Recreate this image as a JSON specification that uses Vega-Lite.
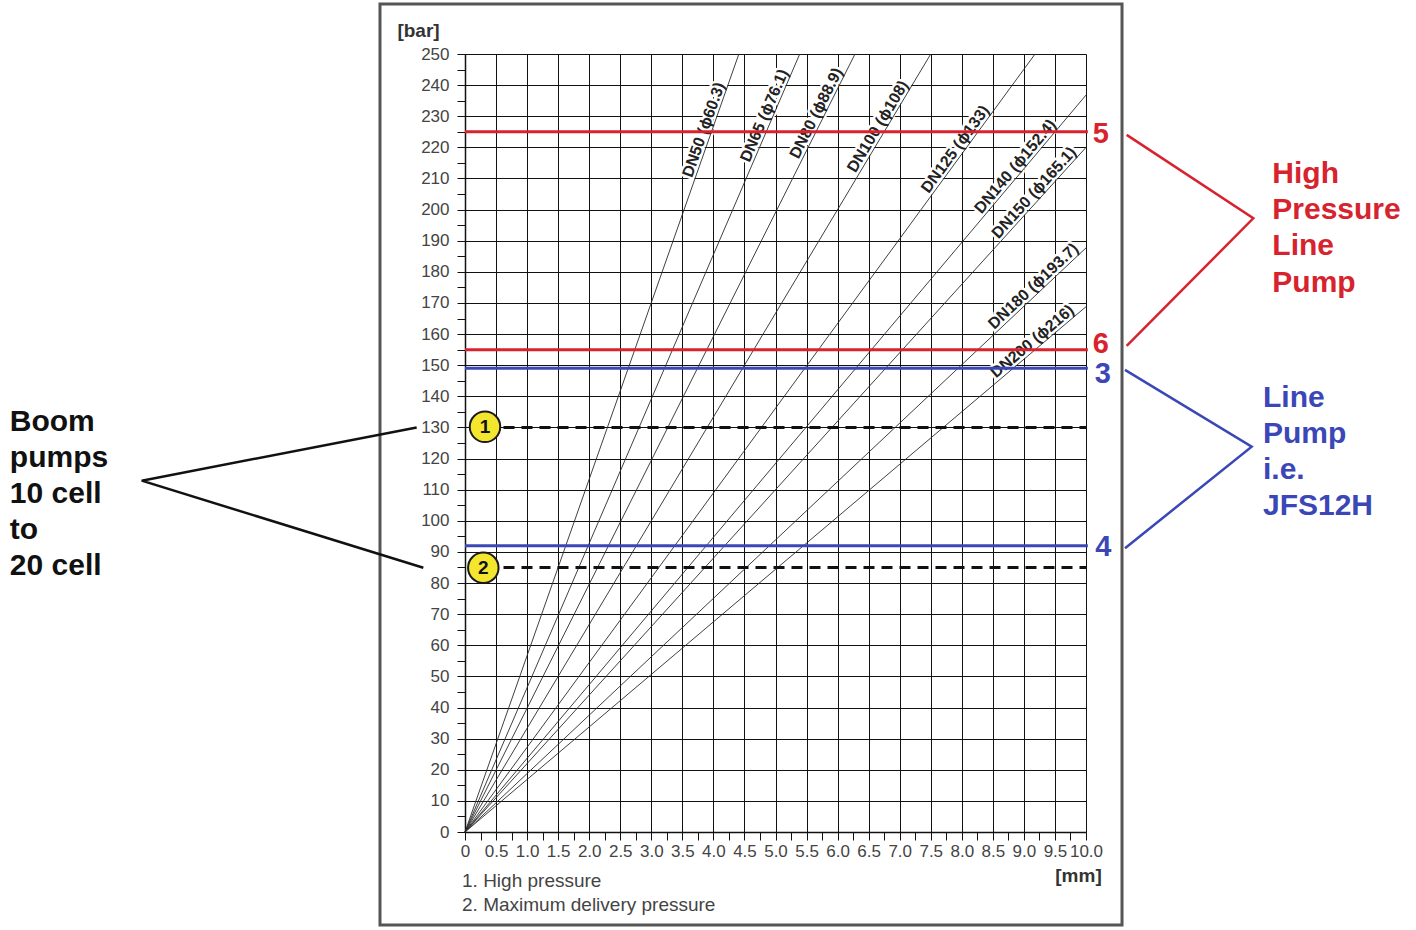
{
  "$schema": "https://vega.github.io/schema/vega-lite/v6.json",
  "width": 621,
  "height": 778,
  "autosize": {"type": "none"},
  "padding": {"left": 465, "top": 54, "right": 330, "bottom": 98},
  "background": "white",
  "config": {"view": {"stroke": null}, "font": "Liberation Sans"},
  "datasets": {
    "frame": [{"mm": -1.369, "mm2": 10.58, "bar": -29.88, "bar2": 266.07}],
    "pipes": [
      {"dn": "DN50", "mm": 0, "bar": 0}, {"dn": "DN50", "mm": 4.41, "bar": 250},
      {"dn": "DN65", "mm": 0, "bar": 0}, {"dn": "DN65", "mm": 5.39, "bar": 250},
      {"dn": "DN80", "mm": 0, "bar": 0}, {"dn": "DN80", "mm": 6.28, "bar": 250},
      {"dn": "DN100", "mm": 0, "bar": 0}, {"dn": "DN100", "mm": 7.5, "bar": 250},
      {"dn": "DN125", "mm": 0, "bar": 0}, {"dn": "DN125", "mm": 9.18, "bar": 250},
      {"dn": "DN140", "mm": 0, "bar": 0}, {"dn": "DN140", "mm": 10, "bar": 236.8},
      {"dn": "DN150", "mm": 0, "bar": 0}, {"dn": "DN150", "mm": 10, "bar": 220},
      {"dn": "DN180", "mm": 0, "bar": 0}, {"dn": "DN180", "mm": 10, "bar": 187.7},
      {"dn": "DN200", "mm": 0, "bar": 0}, {"dn": "DN200", "mm": 10, "bar": 168.8}
    ],
    "pipeLabels": [
      {"dn": "DN50", "od": 60.3, "label": "DN50 (ϕ60.3)", "mm": 3.965, "bar": 224.8},
      {"dn": "DN65", "od": 76.1, "label": "DN65 (ϕ76.1)", "mm": 4.94, "bar": 229.2},
      {"dn": "DN80", "od": 88.9, "label": "DN80 (ϕ88.9)", "mm": 5.77, "bar": 229.8},
      {"dn": "DN100", "od": 108, "label": "DN100 (ϕ108)", "mm": 6.76, "bar": 225.4},
      {"dn": "DN125", "od": 133, "label": "DN125 (ϕ133)", "mm": 8.0, "bar": 217.9},
      {"dn": "DN140", "od": 152.4, "label": "DN140 (ϕ152.4)", "mm": 8.96, "bar": 212.2},
      {"dn": "DN150", "od": 165.1, "label": "DN150 (ϕ165.1)", "mm": 9.26, "bar": 203.7},
      {"dn": "DN180", "od": 193.7, "label": "DN180 (ϕ193.7)", "mm": 9.24, "bar": 173.5},
      {"dn": "DN200", "od": 216, "label": "DN200 (ϕ216)", "mm": 9.22, "bar": 155.7}
    ],
    "hlines": [
      {"num": "5", "grp": "high", "bar": 225, "mm": 0, "mm2": 10.03},
      {"num": "6", "grp": "high", "bar": 155, "mm": 0, "mm2": 10.03},
      {"num": "3", "grp": "line", "bar": 149, "mm": 0, "mm2": 10.03},
      {"num": "4", "grp": "line", "bar": 92, "mm": 0, "mm2": 10.03}
    ],
    "dashes": [
      {"num": "1", "bar": 130, "mm": 0.62, "mm2": 10},
      {"num": "2", "bar": 85, "mm": 0.62, "mm2": 10}
    ],
    "circles": [
      {"num": "1", "mm": 0.322, "bar": 130.2},
      {"num": "2", "mm": 0.295, "bar": 84.9}
    ],
    "nums": [
      {"num": "5", "grp": "high", "mm": 10.24, "bar": 224.3},
      {"num": "6", "grp": "high", "mm": 10.24, "bar": 156.8},
      {"num": "3", "grp": "line", "mm": 10.27, "bar": 147.2},
      {"num": "4", "grp": "line", "mm": 10.28, "bar": 91.7}
    ],
    "brackets": [
      {"grp": "boom", "k": 1, "mm": -0.778, "bar": 130.0},
      {"grp": "boom", "k": 2, "mm": -5.206, "bar": 112.9},
      {"grp": "boom", "k": 3, "mm": -0.671, "bar": 84.9},
      {"grp": "high", "k": 1, "mm": 10.655, "bar": 224.0},
      {"grp": "high", "k": 2, "mm": 12.694, "bar": 197.2},
      {"grp": "high", "k": 3, "mm": 10.655, "bar": 156.2},
      {"grp": "line", "k": 1, "mm": 10.628, "bar": 148.5},
      {"grp": "line", "k": 2, "mm": 12.668, "bar": 123.8},
      {"grp": "line", "k": 3, "mm": 10.628, "bar": 91.2}
    ],
    "notes": [
      {"grp": "boom", "txt": "Boom", "mm": -7.33, "bar": 131.75},
      {"grp": "boom", "txt": "pumps", "mm": -7.33, "bar": 120.18},
      {"grp": "boom", "txt": "10 cell", "mm": -7.33, "bar": 108.61},
      {"grp": "boom", "txt": "to", "mm": -7.33, "bar": 97.04},
      {"grp": "boom", "txt": "20 cell", "mm": -7.33, "bar": 85.48},
      {"grp": "high", "txt": "High", "mm": 13.0, "bar": 211.44},
      {"grp": "high", "txt": "Pressure", "mm": 13.0, "bar": 199.87},
      {"grp": "high", "txt": "Line", "mm": 13.0, "bar": 188.3},
      {"grp": "high", "txt": "Pump", "mm": 13.0, "bar": 176.57},
      {"grp": "line", "txt": "Line", "mm": 12.85, "bar": 139.46},
      {"grp": "line", "txt": "Pump", "mm": 12.85, "bar": 127.89},
      {"grp": "line", "txt": "i.e.", "mm": 12.85, "bar": 116.32},
      {"grp": "line", "txt": "JFS12H", "mm": 12.85, "bar": 104.76}
    ],
    "footnotes": [
      {"txt": "1. High pressure", "mm": -0.048, "bar": -15.75},
      {"txt": "2. Maximum delivery pressure", "mm": -0.048, "bar": -23.46}
    ]
  },
  "encoding": {
    "x": {
      "field": "mm",
      "type": "quantitative",
      "scale": {"domain": [0, 10], "nice": false, "zero": false},
      "axis": {
        "values": [0,0.25,0.5,0.75,1,1.25,1.5,1.75,2,2.25,2.5,2.75,3,3.25,3.5,3.75,4,4.25,4.5,4.75,5,5.25,5.5,5.75,6,6.25,6.5,6.75,7,7.25,7.5,7.75,8,8.25,8.5,8.75,9,9.25,9.5,9.75,10],
        "labelExpr": "datum.value % 0.5 === 0 ? (datum.value === 0 ? '0' : format(datum.value, '.1f')) : ''",
        "labelOverlap": false,
        "labelFlush": false,
        "labelFontSize": 17,
        "labelColor": "#444",
        "labelPadding": 3,
        "grid": true,
        "gridColor": "#111",
        "gridWidth": 1,
        "gridOpacity": {"condition": {"test": "datum.value % 0.5 === 0", "value": 1}, "value": 0},
        "domainColor": "#111",
        "domainWidth": 1.5,
        "tickColor": "#111",
        "tickSize": 8,
        "title": "[mm]",
        "titleX": 613,
        "titleY": 43,
        "titleAlign": "center",
        "titleBaseline": "middle",
        "titleFontSize": 19,
        "titleFontWeight": "bold",
        "titleColor": "#333"
      }
    },
    "y": {
      "field": "bar",
      "type": "quantitative",
      "scale": {"domain": [0, 250], "nice": false, "zero": false},
      "axis": {
        "values": [0,5,10,15,20,25,30,35,40,45,50,55,60,65,70,75,80,85,90,95,100,105,110,115,120,125,130,135,140,145,150,155,160,165,170,175,180,185,190,195,200,205,210,215,220,225,230,235,240,245,250],
        "labelExpr": "datum.value % 10 === 0 ? datum.label : ''",
        "labelOverlap": false,
        "labelFlush": false,
        "labelFontSize": 17,
        "labelColor": "#444",
        "labelPadding": 8,
        "grid": true,
        "gridColor": "#111",
        "gridWidth": 1,
        "gridOpacity": {"condition": {"test": "datum.value % 10 === 0", "value": 1}, "value": 0},
        "domainColor": "#111",
        "domainWidth": 1.5,
        "tickColor": "#111",
        "tickSize": 8,
        "title": "[bar]",
        "titleAngle": 0,
        "titleX": -47,
        "titleY": -24,
        "titleAlign": "center",
        "titleBaseline": "middle",
        "titleFontSize": 19,
        "titleFontWeight": "bold",
        "titleColor": "#333"
      }
    }
  },
  "layer": [
    {
      "data": {"name": "frame"},
      "mark": {"type": "rect", "fill": "transparent", "stroke": "#555", "strokeWidth": 3},
      "encoding": {"x2": {"field": "mm2"}, "y2": {"field": "bar2"}}
    },
    {
      "data": {"name": "pipeLabels"},
      "mark": {"type": "text", "align": "center", "baseline": "bottom", "fontSize": 16, "fontWeight": "bold", "fill": "white", "stroke": "white", "strokeWidth": 5, "strokeJoin": "round"},
      "encoding": {
        "text": {"field": "label"},
        "angle": {"field": "od", "type": "quantitative", "scale": {"type": "linear", "domain": [60.3,76.1,88.9,108,133,152.4,165.1,193.7,216], "range": [289.4,293.3,296.6,300.9,306.2,310.1,312.2,316.8,319.8]}, "legend": null}
      }
    },
    {
      "data": {"name": "pipes"},
      "mark": {"type": "line", "color": "#2a2a2a", "strokeWidth": 0.9},
      "encoding": {"detail": {"field": "dn"}}
    },
    {
      "data": {"name": "pipeLabels"},
      "mark": {"type": "text", "align": "center", "baseline": "bottom", "fontSize": 16, "fontWeight": "bold", "color": "#222"},
      "encoding": {
        "text": {"field": "label"},
        "angle": {"field": "od", "type": "quantitative", "scale": {"type": "linear", "domain": [60.3,76.1,88.9,108,133,152.4,165.1,193.7,216], "range": [289.4,293.3,296.6,300.9,306.2,310.1,312.2,316.8,319.8]}, "legend": null}
      }
    },
    {
      "data": {"name": "hlines"},
      "mark": {"type": "rule", "strokeWidth": 3},
      "encoding": {
        "x2": {"field": "mm2"},
        "color": {"field": "grp", "type": "nominal", "scale": {"domain": ["boom", "high", "line"], "range": ["#111111", "#d7232e", "#3b47b6"]}, "legend": null}
      }
    },
    {
      "data": {"name": "dashes"},
      "mark": {"type": "rule", "strokeWidth": 3, "color": "#111", "strokeDash": [11, 7]},
      "encoding": {"x2": {"field": "mm2"}}
    },
    {
      "data": {"name": "brackets"},
      "mark": {"type": "line", "strokeWidth": 2.5},
      "encoding": {
        "order": {"field": "k"},
        "color": {"field": "grp", "type": "nominal", "scale": {"domain": ["boom", "high", "line"], "range": ["#111111", "#d7232e", "#3b47b6"]}, "legend": null}
      }
    },
    {
      "data": {"name": "circles"},
      "mark": {"type": "point", "shape": "circle", "filled": true, "fill": "#f4e62e", "stroke": "#1a1a1a", "strokeWidth": 2, "size": 930, "opacity": 1}
    },
    {
      "data": {"name": "circles"},
      "mark": {"type": "text", "align": "center", "baseline": "middle", "fontSize": 19, "fontWeight": "bold", "color": "#111"},
      "encoding": {"text": {"field": "num"}}
    },
    {
      "data": {"name": "nums"},
      "mark": {"type": "text", "align": "center", "baseline": "middle", "fontSize": 29, "fontWeight": "bold"},
      "encoding": {
        "text": {"field": "num"},
        "color": {"field": "grp", "type": "nominal", "scale": {"domain": ["boom", "high", "line"], "range": ["#111111", "#d7232e", "#3b47b6"]}, "legend": null}
      }
    },
    {
      "data": {"name": "notes"},
      "mark": {"type": "text", "align": "left", "baseline": "middle", "fontSize": 30, "fontWeight": "bold"},
      "encoding": {
        "text": {"field": "txt"},
        "color": {"field": "grp", "type": "nominal", "scale": {"domain": ["boom", "high", "line"], "range": ["#111111", "#d7232e", "#3b47b6"]}, "legend": null}
      }
    },
    {
      "data": {"name": "footnotes"},
      "mark": {"type": "text", "align": "left", "baseline": "middle", "fontSize": 19, "color": "#444"},
      "encoding": {"text": {"field": "txt"}}
    }
  ]
}
